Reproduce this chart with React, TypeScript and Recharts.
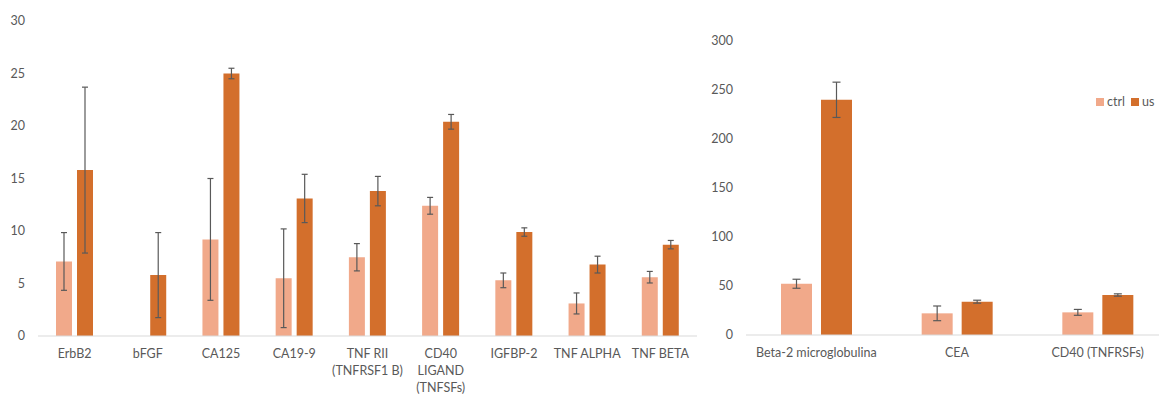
import React from "react";
import { BarChart, Bar, XAxis, YAxis, ErrorBar, Legend } from "recharts";

// Panel 1: markers on the 0–30 scale
const leftCategories = [
  "ErbB2",
  "bFGF",
  "CA125",
  "CA19-9",
  "TNF RII\n(TNFRSF1 B)",
  "CD40\nLIGAND\n(TNFSFs)",
  "IGFBP-2",
  "TNF ALPHA",
  "TNF BETA",
];
const leftCtrl = [7.1, 0, 9.2, 5.5, 7.5, 12.4, 5.3, 3.1, 5.6];
const leftCtrlErr = [2.75, null, 5.8, 4.7, 1.3, 0.8, 0.7, 1.0, 0.55];
const leftUs = [15.8, 5.8, 25.0, 13.1, 13.8, 20.4, 9.9, 6.8, 8.7];
const leftUsErr = [7.9, 4.05, 0.5, 2.3, 1.4, 0.7, 0.4, 0.8, 0.4];
const leftTicks = [0, 5, 10, 15, 20, 25, 30];

// Panel 2: markers on the 0–300 scale
const rightCategories = ["Beta-2 microglobulina", "CEA", "CD40 (TNFRSFs)"];
const rightCtrl = [52.3, 22.1, 23.1];
const rightCtrlErr = [4.6, 7.5, 3.0];
const rightUs = [240, 34, 40.8];
const rightUsErr = [18, 1.5, 1.2];
const rightTicks = [0, 50, 100, 150, 200, 250, 300];

const seriesNames = ["ctrl", "us"];

const CTRL_COLOR = "#F1A98A";
const US_COLOR = "#D36F2C";
const TEXT_COLOR = "#595959";
const ERR_COLOR = "#595959";
const FONT = "Lato, 'Open Sans', sans-serif";

const leftData = leftCategories.map((name, i) => ({
  name,
  ctrl: leftCtrl[i],
  ctrlErr: leftCtrlErr[i],
  us: leftUs[i],
  usErr: leftUsErr[i],
}));

const rightData = rightCategories.map((name, i) => ({
  name,
  ctrl: rightCtrl[i],
  ctrlErr: rightCtrlErr[i],
  us: rightUs[i],
  usErr: rightUsErr[i],
}));

// Category label that wraps on "\n"
const MultiLineTick = (props: any) => {
  const { x, y, payload } = props;
  const lines = String(payload.value).split("\n");
  return (
    <text
      x={x}
      y={y}
      textAnchor="middle"
      fill={TEXT_COLOR}
      fontSize={12.5}
      fontFamily={FONT}
    >
      {lines.map((line, i) => (
        <tspan key={i} x={x} dy={i === 0 ? 22 : 17}>
          {line}
        </tspan>
      ))}
    </text>
  );
};

const LegendContent = () => (
  <div style={{ display: "flex", alignItems: "center", fontFamily: FONT, fontSize: 12.5, color: TEXT_COLOR }}>
    {seriesNames.map((s, i) => (
      <div key={s} style={{ display: "flex", alignItems: "center", marginRight: i === 0 ? 6 : 0 }}>
        <svg width={8} height={8} style={{ marginRight: 3 }}>
          <rect width={8} height={8} fill={i === 0 ? CTRL_COLOR : US_COLOR} />
        </svg>
        <span>{s}</span>
      </div>
    ))}
  </div>
);

const tickStyle = { fill: TEXT_COLOR, fontSize: 12.5, fontFamily: FONT };

export default function App() {
  return (
    <div
      style={{
        position: "fixed",
        top: 0,
        left: 0,
        width: 1159,
        height: 396,
        overflow: "hidden",
        background: "#ffffff",
      }}
    >
      <div style={{ position: "absolute", left: 0, top: 0 }}>
        <BarChart
          width={700}
          height={396}
          data={leftData}
          margin={{ top: 21, right: 3, bottom: 0, left: 0 }}
          barSize={16}
          barGap={5}
        >
          <XAxis
            dataKey="name"
            height={60}
            axisLine={{ stroke: "#D9D9D9" }}
            tickLine={false}
            tickSize={0}
            tickMargin={0}
            interval={0}
            tick={<MultiLineTick />}
          />
          <YAxis
            width={38}
            domain={[0, 30]}
            ticks={leftTicks}
            axisLine={false}
            tickLine={false}
            tickSize={0}
            tickMargin={13}
            tick={tickStyle}
          />
          <Bar dataKey="ctrl" name={seriesNames[0]} fill={CTRL_COLOR} isAnimationActive={false}>
            <ErrorBar dataKey="ctrlErr" width={3} stroke={ERR_COLOR} strokeWidth={1.2} />
          </Bar>
          <Bar dataKey="us" name={seriesNames[1]} fill={US_COLOR} isAnimationActive={false}>
            <ErrorBar dataKey="usErr" width={3} stroke={ERR_COLOR} strokeWidth={1.2} />
          </Bar>
        </BarChart>
      </div>
      <div style={{ position: "absolute", left: 700, top: 0 }}>
        <BarChart
          width={468}
          height={396}
          data={rightData}
          margin={{ top: 41, right: 0, bottom: 0, left: 0 }}
          barSize={31}
          barGap={9}
        >
          <XAxis
            dataKey="name"
            height={61}
            axisLine={{ stroke: "#D9D9D9" }}
            tickLine={false}
            tickSize={0}
            tickMargin={0}
            interval={0}
            tick={<MultiLineTick />}
          />
          <YAxis
            width={46}
            domain={[0, 300]}
            ticks={rightTicks}
            axisLine={false}
            tickLine={false}
            tickSize={0}
            tickMargin={13}
            tick={tickStyle}
          />
          <Legend
            layout="horizontal"
            verticalAlign="middle"
            align="center"
            content={<LegendContent />}
            wrapperStyle={{ top: 94, left: 396, width: "auto", height: "auto" }}
          />
          <Bar dataKey="ctrl" name={seriesNames[0]} fill={CTRL_COLOR} isAnimationActive={false}>
            <ErrorBar dataKey="ctrlErr" width={4} stroke={ERR_COLOR} strokeWidth={1.2} />
          </Bar>
          <Bar dataKey="us" name={seriesNames[1]} fill={US_COLOR} isAnimationActive={false}>
            <ErrorBar dataKey="usErr" width={4} stroke={ERR_COLOR} strokeWidth={1.2} />
          </Bar>
        </BarChart>
      </div>
    </div>
  );
}
